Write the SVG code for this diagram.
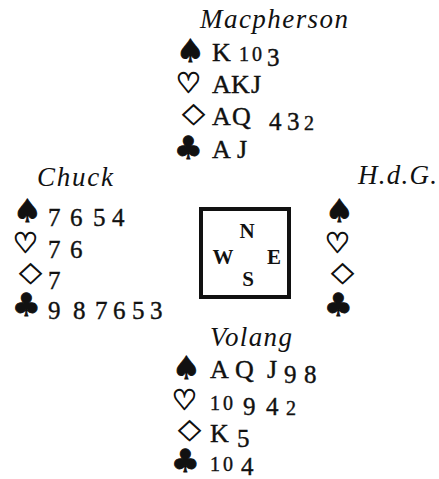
<svg xmlns="http://www.w3.org/2000/svg" width="439" height="479" viewBox="0 0 439 479">
<style>
.bg{fill:#fff}
.nm{font-family:"Liberation Serif",serif;font-style:italic;font-size:27px;fill:#111}
.su{font-family:"DejaVu Sans",sans-serif;font-size:32px;fill:#111;stroke:#111;stroke-width:0.9}
.ht{font-size:28px;stroke-width:1.1}
.dm{font-size:28px;stroke-width:0.9}
.cd{font-family:"Liberation Serif",serif;font-size:26px;fill:#111;stroke:#111;stroke-width:0.4}
.lo,.hi{font-size:25px}
.sm{font-size:20px;letter-spacing:3px}
.cp{font-family:"Liberation Serif",serif;font-weight:bold;font-size:21px;fill:#111;text-anchor:middle}
.box{fill:none;stroke:#111;stroke-width:4}
</style>
<rect class="bg" x="0" y="0" width="439" height="479"/>
<g id="north">
<text class="nm" x="200" y="28" textLength="148" lengthAdjust="spacing">Macpherson</text>
<text class="su" x="176" y="62">♠</text>
<text class="cd" y="61"><tspan x="212">K</tspan><tspan class="sm" x="239">10</tspan><tspan class="lo" x="267" y="66">3</tspan></text>
<text class="su ht" x="176" y="93">♡</text>
<text class="cd" y="93"><tspan x="212">A</tspan><tspan x="231">K</tspan><tspan x="251">J</tspan></text>
<text class="su dm" transform="translate(176,125) scale(1.4,1)">♢</text>
<text class="cd" y="125"><tspan x="212">A</tspan><tspan x="232">Q</tspan><tspan class="lo" x="269" y="130">4</tspan><tspan class="lo" x="287" y="130">3</tspan><tspan class="sm" x="304">2</tspan></text>
<text class="su" x="174" y="159">♣</text>
<text class="cd" y="158"><tspan x="212">A</tspan><tspan x="237">J</tspan></text>
</g>
<g id="west">
<text class="nm" x="37" y="186" textLength="76" lengthAdjust="spacing">Chuck</text>
<text class="su" x="13" y="222">♠</text>
<text class="cd" y="221"><tspan class="lo" x="48" y="226">7</tspan><tspan class="hi" x="70">6</tspan><tspan class="lo" x="93" y="226">5</tspan><tspan class="lo" x="112" y="226">4</tspan></text>
<text class="su ht" x="13" y="253">♡</text>
<text class="cd" y="253"><tspan class="lo" x="48" y="258">7</tspan><tspan class="hi" x="70">6</tspan></text>
<text class="su dm" transform="translate(13,284) scale(1.4,1)">♢</text>
<text class="cd" y="284"><tspan class="lo" x="48" y="289">7</tspan></text>
<text class="su" x="12" y="316">♣</text>
<text class="cd" y="314"><tspan class="lo" x="48" y="319">9</tspan><tspan class="hi" x="73">8</tspan><tspan class="lo" x="95" y="319">7</tspan><tspan class="hi" x="113">6</tspan><tspan class="lo" x="132" y="319">5</tspan><tspan class="lo" x="150" y="319">3</tspan></text>
</g>
<g id="east">
<text class="nm" x="358" y="184" textLength="79" lengthAdjust="spacing">H.d.G.</text>
<text class="su" x="325" y="222">♠</text>
<text class="su ht" x="325" y="253">♡</text>
<text class="su dm" transform="translate(325,284) scale(1.4,1)">♢</text>
<text class="su" x="324" y="316">♣</text>
</g>
<g id="compass">
<rect class="box" x="201" y="209" width="88" height="88"/>
<text class="cp" x="247" y="238">N</text>
<text class="cp" x="223" y="264">W</text>
<text class="cp" x="274" y="264">E</text>
<text class="cp" x="248" y="286">S</text>
</g>
<g id="south">
<text class="nm" x="210" y="346" textLength="82" lengthAdjust="spacing">Volang</text>
<text class="su" x="172" y="379">♠</text>
<text class="cd" y="378"><tspan x="210">A</tspan><tspan x="235">Q</tspan><tspan x="267">J</tspan><tspan class="lo" x="284" y="383">9</tspan><tspan class="hi" x="304">8</tspan></text>
<text class="su ht" x="172" y="410">♡</text>
<text class="cd" y="410"><tspan class="sm" x="210">10</tspan><tspan class="lo" x="243" y="415">9</tspan><tspan class="lo" x="266" y="415">4</tspan><tspan class="sm" x="286">2</tspan></text>
<text class="su dm" transform="translate(172,441) scale(1.4,1)">♢</text>
<text class="cd" y="442"><tspan x="210">K</tspan><tspan class="lo" x="237" y="447">5</tspan></text>
<text class="su" x="171" y="472">♣</text>
<text class="cd" y="471"><tspan class="sm" x="210">10</tspan><tspan class="lo" x="241" y="475">4</tspan></text>
</g>
</svg>
